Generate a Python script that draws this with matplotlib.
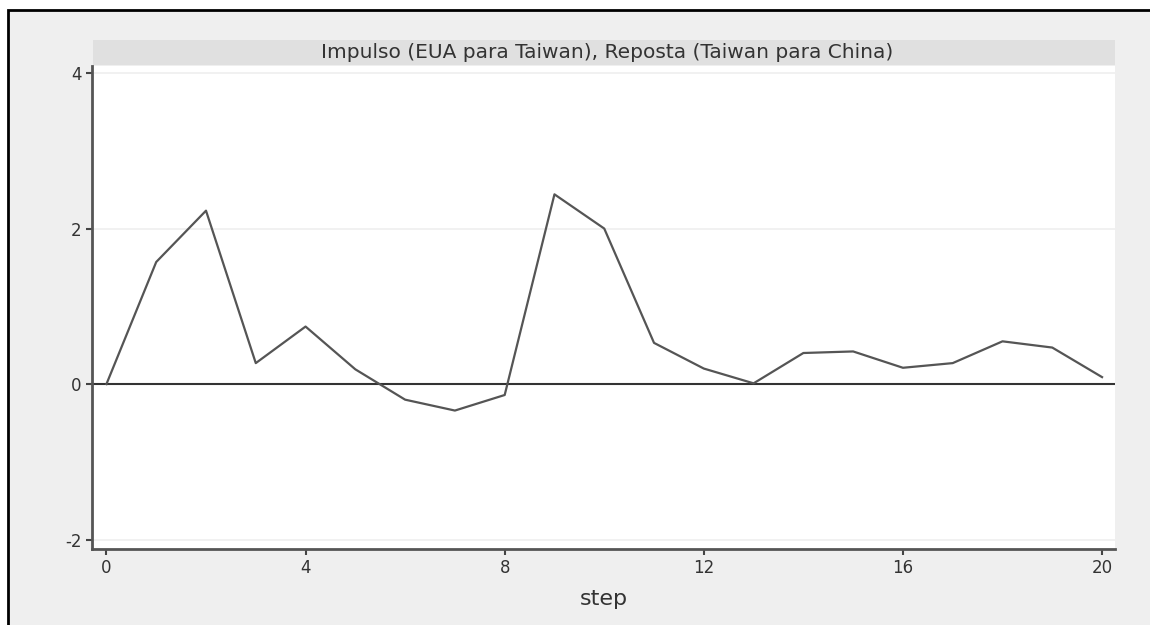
import matplotlib.pyplot as plt
from matplotlib.patches import Rectangle

plt.rcParams['font.family'] = ['DejaVu Sans']
plt.rcParams['axes.unicode_minus'] = False

steps = list(range(21))
irf = [0.0, 1.57, 2.23, 0.27, 0.74, 0.19, -0.20, -0.34, -0.14, 2.44,
       2.00, 0.53, 0.20, 0.01, 0.40, 0.42, 0.21, 0.27, 0.55, 0.47, 0.09]
yticks = [-2, 0, 2, 4]
xticks = [0, 4, 8, 12, 16, 20]
title = 'Impulso (EUA para Taiwan), Reposta (Taiwan para China)'

fig = plt.figure(figsize=(11.5, 6.25), dpi=100)
fig.patch.set_facecolor('white')

# gray panel with black frame on top/left
fig.add_artist(Rectangle((8 / 1150, -0.05), 1.1, 1 - 10 / 625 + 0.05,
                         transform=fig.transFigure, facecolor='#efefef',
                         edgecolor='black', linewidth=2, zorder=-10))

ax = fig.add_axes([92 / 1150, 1 - 549 / 625, (1115 - 92) / 1150, (549 - 66) / 625])
ax.set_facecolor('white')

# title strip
fig.add_artist(Rectangle((93 / 1150, 1 - 65 / 625), (1115 - 93) / 1150, 25 / 625,
                         transform=fig.transFigure, facecolor='#e0e0e0',
                         edgecolor='none', zorder=1))
fig.text((93 + 1115) / 2 / 1150 + 0.003, 1 - 53 / 625, title, ha='center', va='center',
         fontsize=14.5, color='#333333')

for y in [-2, 2, 4]:
    ax.axhline(y, color='#efefef', linewidth=1.2, zorder=0)
ax.axhline(0, color='#333333', linewidth=1.5, zorder=1)
ax.plot(steps, irf, color='#555555', linewidth=1.6, zorder=2)

ax.set_xlim(-0.29, 20.26)
ax.set_ylim(-2.12, 4.09)
ax.set_xticks(xticks)
ax.set_yticks(yticks)
ax.tick_params(axis='both', labelsize=12, colors='#444444', length=4, width=1.5,
               labelcolor='#333333')
for s in ['top', 'right']:
    ax.spines[s].set_visible(False)
for s in ['left', 'bottom']:
    ax.spines[s].set_color('#555555')
    ax.spines[s].set_linewidth(2)
ax.set_xlabel('step', fontsize=16, color='#333333', labelpad=8)

fig.savefig('out.png', dpi=100, facecolor=fig.get_facecolor())
